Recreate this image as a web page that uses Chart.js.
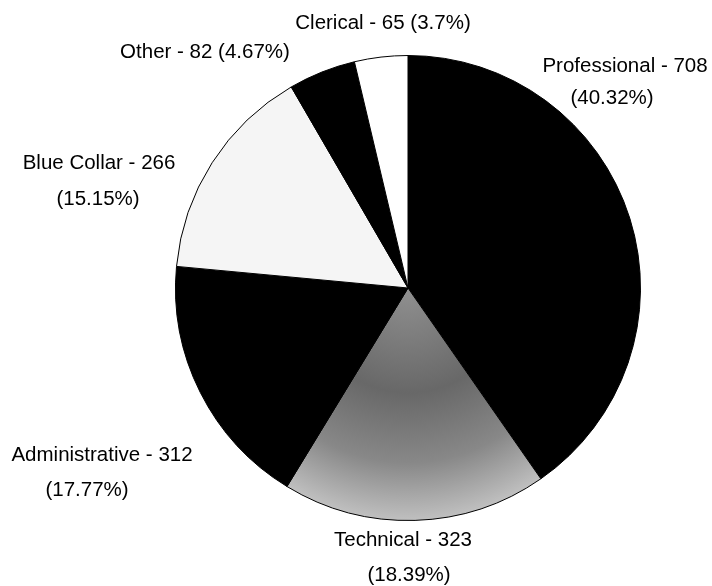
<!DOCTYPE html>
<html>
<head>
<meta charset="utf-8">
<script src="https://cdn.jsdelivr.net/npm/chart.js@4.4.0/dist/chart.umd.min.js"></script>
<style>
  html, body { margin: 0; padding: 0; background: #fff; }
  #wrap { width: 712px; height: 586px; }
</style>
</head>
<body>
<div id="wrap"><canvas id="pieChart" width="712" height="586"></canvas></div>
<script>
// data
const categories = ['Professional', 'Technical', 'Administrative', 'Blue Collar', 'Other', 'Clerical'];
const counts = [708, 323, 312, 266, 82, 65];
const percentLabels = ['40.32%', '18.39%', '17.77%', '15.15%', '4.67%', '3.7%'];

// where each label sits (layout only): lines + centre points
const labelLayout = [
  { split: true, pos: [[625, 66], [612, 98]] },
  { split: true, pos: [[403, 540], [409, 575]] },
  { split: true, pos: [[102, 455], [87, 490]] },
  { split: true, pos: [[99, 163], [98, 199]] },
  { split: false, pos: [[205, 52]] },
  { split: false, pos: [[383, 23]] }
];

const plainFills = ['#000000', null, '#000000', '#f5f5f5', '#000000', '#ffffff'];

function sliceFill(context) {
  const i = context.dataIndex;
  if (plainFills[i]) return plainFills[i];
  const chart = context.chart;
  const area = chart.chartArea;
  if (!area) return '#888888';
  const cx = (area.left + area.right) / 2;
  const cy = (area.top + area.bottom) / 2;
  const r = Math.min(area.right - area.left, area.bottom - area.top) / 2;
  const g = chart.ctx.createRadialGradient(cx, cy, 0, cx, cy, r);
  g.addColorStop(0, '#909090');
  g.addColorStop(0.45, '#686868');
  g.addColorStop(0.75, '#888888');
  g.addColorStop(1, '#c0c0c0');
  return g;
}

const labelPlugin = {
  id: 'sliceLabels',
  afterDraw(chart) {
    const ctx = chart.ctx;
    ctx.save();
    ctx.font = '20.5px "Liberation Sans", Arial, sans-serif';
    ctx.fillStyle = '#000';
    ctx.textAlign = 'center';
    ctx.textBaseline = 'middle';
    categories.forEach((name, i) => {
      const head = name + ' - ' + counts[i];
      const pct = '(' + percentLabels[i] + ')';
      const lay = labelLayout[i];
      if (lay.split) {
        ctx.fillText(head, lay.pos[0][0], lay.pos[0][1]);
        ctx.fillText(pct, lay.pos[1][0], lay.pos[1][1]);
      } else {
        ctx.fillText(head + ' ' + pct, lay.pos[0][0], lay.pos[0][1]);
      }
    });
    ctx.restore();
  }
};

new Chart(document.getElementById('pieChart'), {
  type: 'pie',
  data: {
    labels: categories,
    datasets: [{
      data: counts,
      backgroundColor: sliceFill,
      borderColor: '#000',
      borderWidth: 1
    }]
  },
  options: {
    responsive: false,
    animation: false,
    layout: { padding: { left: 175, right: 71, top: 55, bottom: 65 } },
    plugins: {
      legend: { display: false },
      tooltip: { enabled: false }
    }
  },
  plugins: [labelPlugin]
});
</script>
</body>
</html>
